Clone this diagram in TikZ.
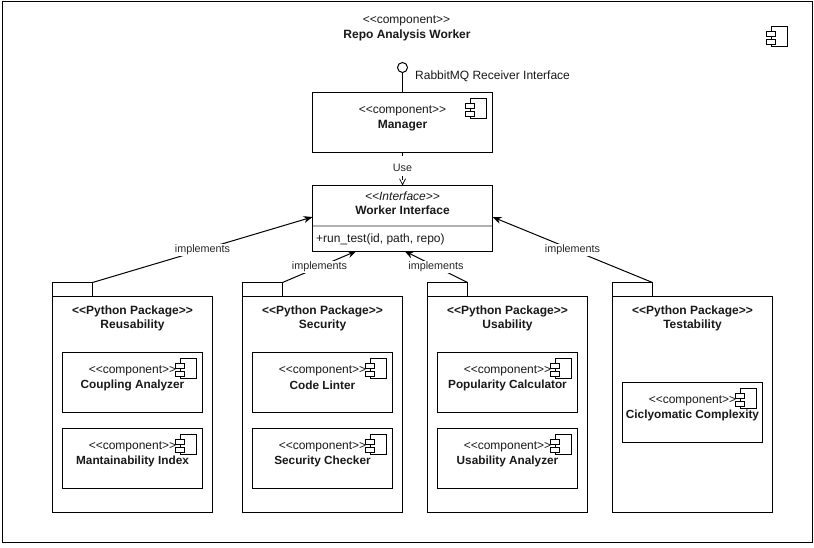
\documentclass[tikz,border=0pt]{standalone}
\usepackage{fontspec}
\setmainfont{Liberation Sans}
\usetikzlibrary{arrows.meta}
\newcommand{\lan}{<\kern0pt<}
\newcommand{\ran}{>\kern0pt>}
\tikzset{
  box/.style={draw=black,line width=1pt,fill=white,inner sep=0pt,outer sep=0pt},
  txt/.style={font=\fontsize{12}{14}\selectfont,inner sep=0pt,align=center,text=black!90},
  lbl/.style={font=\fontsize{10.8}{13}\selectfont,inner sep=1pt,fill=white,text=black!85},
  uselbl/.style={lbl,inner ysep=3.5pt,inner xsep=2pt},
  impl/.style={draw=black,line width=1pt,-{Stealth[length=9pt,width=7pt]}},
  use/.style={draw=black,line width=1pt,dash pattern=on 4pt off 4pt,-{Straight Barb[length=6pt,width=6pt,line width=.7pt]}},
  wire/.style={draw=black,line width=1pt},
}
% \rectnode{name}{x1}{y1}{x2}{y2}
\newcommand{\rectnode}[5]{\node[box,minimum width={((#4)-(#2))*1pt},minimum height={((#5)-(#3))*1pt}] (#1) at ({((#2)+(#4))/2},{((#3)+(#5))/2}) {};}
% \icon{x}{y}: body left x, top y
\newcommand{\icon}[2]{%
  \draw[wire,fill=white] (#1,#2) rectangle ++(16,20);
  \draw[wire,fill=white] (#1-5,#2+4.5) rectangle ++(8.5,5);
  \draw[wire,fill=white] (#1-5,#2+13) rectangle ++(8.5,5);}
% \comp{name}{x1}{y1}: inner component 140x60
\newcommand{\comp}[4]{%
  \rectnode{#1}{#2}{#3+1}{#2+140}{#3+61}
  \icon{#2+118}{#3+7}
  \node[txt] (#1s) at (#2+70,#3+19.5) {\lan component\ran};
  \node[txt] (#1t) at (#2+70,#3+34) {\fontsize{11.8}{14}\selectfont\bfseries #4};}
% \pkg{name}{x1}{title}
\newcommand{\pkg}[3]{%
  \rectnode{#1tab}{#2}{283}{#2+40}{297}
  \rectnode{#1}{#2}{297}{#2+160}{513}
  \node[txt] (#1s) at (#2+80,312) {\bfseries \lan Python Package\ran};
  \node[txt] (#1t) at (#2+80,326) {\bfseries #3};}
\begin{document}
\begin{tikzpicture}[x=1pt,y=-1pt]
\useasboundingbox (0.5,0.5) rectangle (814.5,547.5);
\fill[white] (0.5,0.5) rectangle (814.5,547.5);
\rectnode{outer}{3}{2}{813}{543}
\node[txt] (outers) at (407,21.5) {\lan component\ran};
\node[txt] (outert) at (407.5,36) {\bfseries Repo Analysis Worker};
\icon{772}{27}

\rectnode{manager}{313}{93}{493}{152.5}
\node[txt] (managers) at (403,111.5) {\lan component\ran};
\node[txt] (managert) at (403,126) {\bfseries Manager};
\icon{471}{99}

\node[draw=black,line width=1pt,fill=white,circle,minimum size=10pt,inner sep=0pt] (port) at (403,68) {};
\draw[wire] (port) -- (manager.north);
\node[txt,anchor=west] (portl) at (415.5,77) {RabbitMQ Receiver Interface};

\rectnode{worker}{313}{186}{493}{251.5}
\node[txt] (workers) at (403,196.5) {\itshape \lan Interface\ran};
\node[txt] (workert) at (403,211) {\bfseries Worker Interface};
\draw[black!30,line width=1.5pt] (313.5,226.5) -- (492.5,226.5);
\node[txt,anchor=west] (workerm) at (316.5,240) {+run\_test(id, path, repo)};

\draw[use] (manager.south) -- node[uselbl,pos=.47] (usel) {Use} (worker.north);

\pkg{reus}{53}{Reusability}
\pkg{secu}{243}{Security}
\pkg{usab}{428}{Usability}
\pkg{test}{613}{Testability}

\comp{coupling}{63}{352}{Coupling Analyzer}
\comp{mantain}{63}{428}{Mantainability Index}
\comp{linter}{253}{352}{Code Linter}
\comp{checker}{253}{428}{Security Checker}
\comp{popular}{438}{352}{Popularity Calculator}
\comp{usabana}{438}{428}{Usability Analyzer}
\comp{cyclo}{623}{382}{Ciclyomatic Complexity}

\coordinate (wa) at (313,217.5);
\coordinate (wb) at (357,251.5);
\coordinate (wc) at (405,251.5);
\coordinate (wd) at (493,217.5);
\draw[impl] (reustab.north east) -- node[lbl,pos=.5] (l1) {implements} (wa);
\draw[impl] (secutab.north east) -- node[lbl,pos=.5] (l2) {implements} (wb);
\draw[impl] (usabtab.north east) -- node[lbl,pos=.5] (l3) {implements} (wc);
\draw[impl] (testtab.north east) -- node[lbl,pos=.5] (l4) {implements} (wd);
\end{tikzpicture}
\end{document}
